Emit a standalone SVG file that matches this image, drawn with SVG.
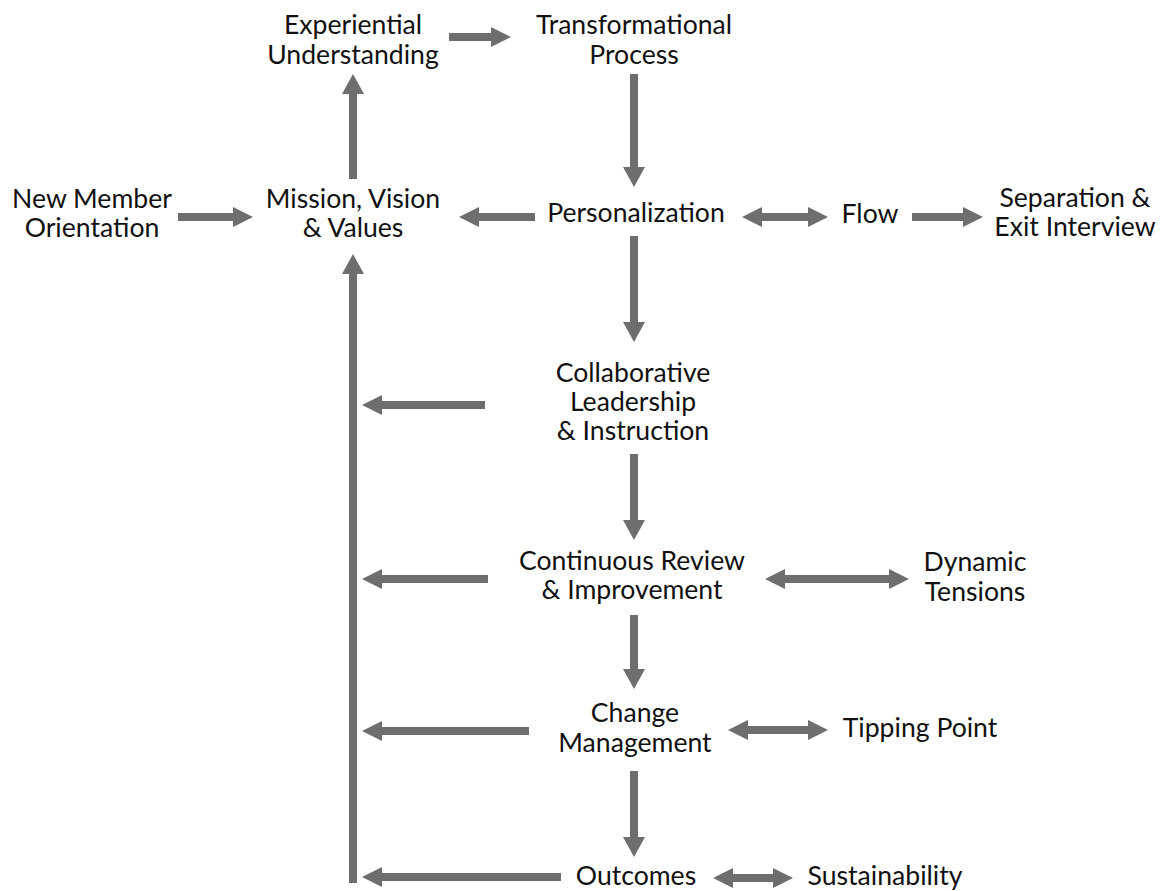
<svg xmlns="http://www.w3.org/2000/svg" width="1163" height="891" viewBox="0 0 1163 891">
<style>
text{font-family:"Lato","Open Sans","Liberation Sans",sans-serif;font-size:26.6px;fill:#111;text-anchor:middle}
.a{fill:#6e6e6e}
</style>
<rect width="1163" height="891" fill="#fff"/>
<g id="connectors">
<!-- NMO -> MVV -->
<polygon class="a" points="178,213 233,213 233,207 253,217 233,227 233,221 178,221"/>
<!-- MVV -> EU (up) -->
<polygon class="a" points="349,179 349,94 342,94 353,74 364,94 357,94 357,179"/>
<!-- EU -> TP -->
<polygon class="a" points="449,33 491,33 491,27 511,37 491,47 491,41 449,41"/>
<!-- TP -> Pers (down) -->
<polygon class="a" points="630,74 638,74 638,167 645,167 634,187 623,167 630,167"/>
<!-- Pers -> MVV (left) -->
<polygon class="a" points="535,213 479,213 479,207 459,217 479,227 479,221 535,221"/>
<!-- Pers <-> Flow -->
<polygon class="a" points="742,217 762,207 762,213 808,213 808,207 828,217 808,227 808,221 762,221 762,227"/>
<!-- Flow -> Sep -->
<polygon class="a" points="912,213 963,213 963,207 983,217 963,227 963,221 912,221"/>
<!-- Pers -> CLI (down) -->
<polygon class="a" points="630,236 638,236 638,322 645,322 634,342 623,322 630,322"/>
<!-- CLI -> line -->
<polygon class="a" points="485,401 382,401 382,395 362,405 382,415 382,409 485,409"/>
<!-- CLI -> CRI (down) -->
<polygon class="a" points="630,454 638,454 638,520 645,520 634,540 623,520 630,520"/>
<!-- CRI -> line -->
<polygon class="a" points="488,575 382,575 382,569 362,579 382,589 382,583 488,583"/>
<!-- CRI <-> DT -->
<polygon class="a" points="765,579 785,569 785,575 889,575 889,569 909,579 889,589 889,583 785,583 785,589"/>
<!-- CRI -> CM (down) -->
<polygon class="a" points="630,615 638,615 638,669 645,669 634,689 623,669 630,669"/>
<!-- CM -> line -->
<polygon class="a" points="529,727 382,727 382,721 362,731 382,741 382,735 529,735"/>
<!-- CM <-> TipP -->
<polygon class="a" points="728,730 748,720 748,726 808,726 808,720 828,730 808,740 808,734 748,734 748,740"/>
<!-- CM -> Outcomes (down) -->
<polygon class="a" points="630,771 638,771 638,837 645,837 634,857 623,837 630,837"/>
<!-- Outcomes -> line -->
<polygon class="a" points="561,873 382,873 382,867 362,877 382,887 382,881 561,881"/>
<!-- Outcomes <-> Sust -->
<polygon class="a" points="713,878 733,868 733,874 773,874 773,868 793,878 773,888 773,882 733,882 733,888"/>
<!-- feedback line up to MVV -->
<polygon class="a" points="349,883 349,274 342,274 353,254 364,274 357,274 357,883"/>
</g>
<g id="n-eu"><text x="353" y="34">Experiential</text><text x="353" y="63.5">Understanding</text></g>
<g id="n-tp"><text x="634" y="34">Transformational</text><text x="634" y="63.5">Process</text></g>
<g id="n-nmo"><text x="92" y="208">New Member</text><text x="92" y="237">Orientation</text></g>
<g id="n-mvv"><text x="353" y="208">Mission, Vision</text><text x="353" y="237">&amp; Values</text></g>
<g id="n-pers"><text x="636" y="222">Personalization</text></g>
<g id="n-flow"><text x="870" y="223">Flow</text></g>
<g id="n-sep"><text x="1075" y="207">Separation &amp;</text><text x="1075" y="236">Exit Interview</text></g>
<g id="n-cli"><text x="633" y="382">Collaborative</text><text x="633" y="411">Leadership</text><text x="633" y="440">&amp; Instruction</text></g>
<g id="n-cri"><text x="632" y="570">Continuous Review</text><text x="632" y="599">&amp; Improvement</text></g>
<g id="n-dt"><text x="975" y="571">Dynamic</text><text x="975" y="600.5">Tensions</text></g>
<g id="n-cm"><text x="635" y="722">Change</text><text x="635" y="752">Management</text></g>
<g id="n-tip"><text x="920" y="737">Tipping Point</text></g>
<g id="n-out"><text x="636" y="885">Outcomes</text></g>
<g id="n-sus"><text x="885" y="885">Sustainability</text></g>
</svg>
